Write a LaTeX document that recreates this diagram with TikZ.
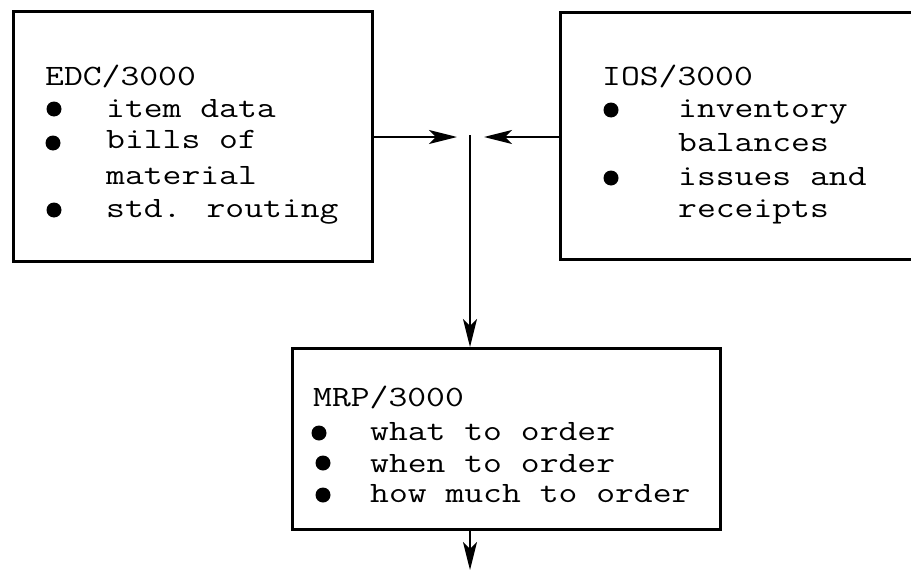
\documentclass[tikz,border=0pt]{standalone}
\usepackage{fontspec}
\usetikzlibrary{arrows.meta}
\newcommand{\tline}[1]{\scalebox{1.24}[1]{#1}}
\begin{document}
\begin{tikzpicture}[x=1pt,y=-1pt,
  boxstyle/.style={draw=black,line width=2.6pt,inner sep=0pt,anchor=north west},
  txt/.style={inner sep=0pt,anchor=base west,font=\fontsize{29.5}{33}\ttfamily},
  conn/.style={line width=1.7pt,-{Stealth[length=28pt,width=14pt,inset=7pt]}},
  bul/.style={fill=black}]
\useasboundingbox (0,0) rectangle (911,570);
% boxes
\node[boxstyle,minimum width=359pt,minimum height=250pt] (edc) at (12,10) {};
\node[boxstyle,minimum width=370pt,minimum height=247pt] (ios) at (559,11) {};
\node[boxstyle,minimum width=428pt,minimum height=181pt] (mrp) at (291,347) {};
% EDC text
\node[txt] (e0) at (45,85) {\tline{EDC/3000}};
\node[txt] (e1) at (106,117) {\tline{item data}};
\node[txt] (e2) at (106,148) {\tline{bills of}};
\node[txt] (e3) at (106,184) {\tline{material}};
\node[txt] (e4) at (106,217) {\tline{std. routing}};
\fill[bul] (54,109) circle (7.5);
\fill[bul] (53,143) circle (7.5);
\fill[bul] (54,210) circle (7.5);
% IOS text
\node[txt] (i0) at (602,85) {\tline{IOS/3000}};
\node[txt] (i1) at (678,117) {\tline{inventory}};
\node[txt] (i2) at (678,151) {\tline{balances}};
\node[txt] (i3) at (678,185) {\tline{issues and}};
\node[txt] (i4) at (678,217) {\tline{receipts}};
\fill[bul] (611,110) circle (7.5);
\fill[bul] (611,178) circle (7.5);
% MRP text
\node[txt] (m0) at (313,406) {\tline{MRP/3000}};
\node[txt] (m1) at (370,440) {\tline{what to order}};
\node[txt] (m2) at (370,472) {\tline{when to order}};
\node[txt] (m3) at (370,502) {\tline{how much to order}};
\fill[bul] (319,433) circle (7.5);
\fill[bul] (323,463) circle (7.5);
\fill[bul] (323,495) circle (7.5);
% connectors
\coordinate (ltip) at (457,137);
\coordinate (rtip) at (484,137);
\coordinate (vtop) at (470,135);
\coordinate (out) at (470,570);
\draw[conn] (edc.east |- ltip) -- (ltip);
\draw[conn] (ios.west |- rtip) -- (rtip);
\draw[conn] (vtop) -- (mrp.north -| vtop);
\draw[conn] (mrp.south -| out) -- (out);
\end{tikzpicture}
\end{document}
